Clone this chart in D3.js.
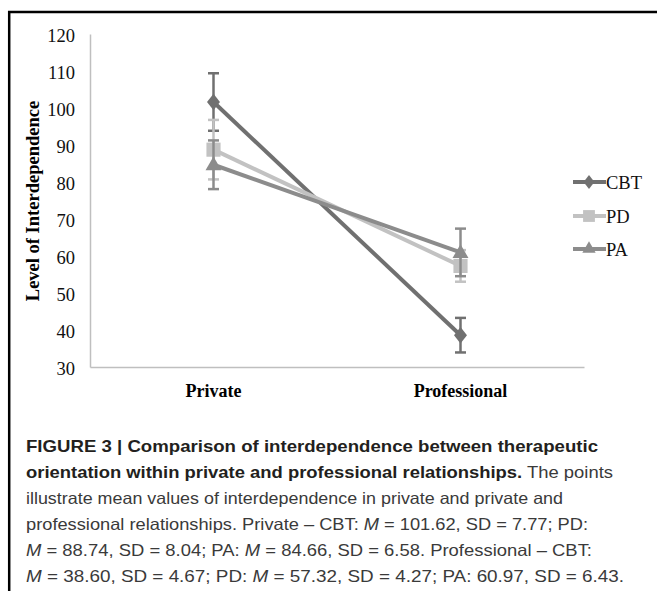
<!DOCTYPE html>
<html>
<head>
<meta charset="utf-8">
<script src="https://cdn.jsdelivr.net/npm/d3@7"></script>
<style>
  html, body { margin: 0; padding: 0; background: #fff; }
  svg { display: block; }
</style>
</head>
<body>
<svg id="chart" width="657" height="591"></svg>
<script>
// ---- data ----
const categories = ["Private", "Professional"];
const seriesNames = ["CBT", "PD", "PA"];
const cbtMeans = [101.62, 38.60];
const cbtSD = [7.77, 4.67];
const pdMeans = [88.74, 57.32];
const pdSD = [8.04, 4.27];
const paMeans = [84.66, 60.97];
const paSD = [6.58, 6.43];
const yTicks = [30, 40, 50, 60, 70, 80, 90, 100, 110, 120];
const yTitle = "Level of Interdependence";

const captionLines = [
  [{t: "FIGURE 3 | Comparison of interdependence between therapeutic", w: "bold"}],
  [{t: "orientation within private and professional relationships.", w: "bold"}, {t: " The points"}],
  [{t: "illustrate mean values of interdependence in private and private and"}],
  [{t: "professional relationships. Private – CBT: "}, {t: "M", i: true}, {t: " = 101.62, SD = 7.77; PD:"}],
  [{t: "M", i: true}, {t: " = 88.74, SD = 8.04; PA: "}, {t: "M", i: true}, {t: " = 84.66, SD = 6.58. Professional – CBT:"}],
  [{t: "M", i: true}, {t: " = 38.60, SD = 4.67; PD: "}, {t: "M", i: true}, {t: " = 57.32, SD = 4.27; PA: 60.97, SD = 6.43."}]
];
const captionWidths = [572, 587, 537, 562, 566, 598];

const series = [
  {name: "CBT", means: cbtMeans, sd: cbtSD, color: "#707070", symbol: d3.symbolDiamond, size: 110},
  {name: "PD", means: pdMeans, sd: pdSD, color: "#c2c2c2", symbol: d3.symbolSquare, size: 200},
  {name: "PA", means: paMeans, sd: paSD, color: "#8c8c8c", symbol: d3.symbolTriangle, size: 110}
];

const svg = d3.select("#chart");
const serif = "Liberation Serif, Times New Roman, serif";

// frame
svg.append("line").attr("x1", 8).attr("x2", 657).attr("y1", 12).attr("y2", 12)
  .attr("stroke", "#000").attr("stroke-width", 2.5);
svg.append("line").attr("x1", 9.2).attr("x2", 9.2).attr("y1", 11).attr("y2", 591)
  .attr("stroke", "#000").attr("stroke-width", 2.5);

// scales
const x = d3.scaleBand().domain(categories).range([90, 584]);
const y = d3.scaleLinear().domain([30, 120]).range([367, 34]);
const cx = c => x(c) + x.bandwidth() / 2;

// axes
const yAxis = d3.axisLeft(y).tickValues(yTicks).tickSize(0).tickPadding(15);
const gy = svg.append("g").attr("transform", "translate(90,0)").call(yAxis);
gy.select(".domain").attr("stroke", "#bfbfbf").attr("stroke-width", 1.5);
gy.selectAll("text").attr("font-family", serif)
  .attr("font-size", 18.5).attr("fill", "#111").attr("dy", "0.4em");

const xAxis = d3.axisBottom(x).tickSize(0).tickPadding(0);
const gx = svg.append("g").attr("transform", "translate(0,367)").call(xAxis);
gx.select(".domain").attr("stroke", "#bfbfbf").attr("stroke-width", 1.5);
gx.selectAll("text").attr("font-family", serif)
  .attr("font-size", 18).attr("font-weight", "bold").attr("fill", "#000")
  .attr("dy", null).attr("y", 30);

// y title
svg.append("text")
  .attr("transform", "translate(39,201) rotate(-90)")
  .attr("text-anchor", "middle")
  .attr("font-family", serif)
  .attr("font-size", 18.5).attr("font-weight", "bold").attr("fill", "#000")
  .text(yTitle);

// series
const line = d3.line().x((d, i) => cx(categories[i])).y(d => y(d));
series.forEach(s => {
  const g = svg.append("g");
  g.append("path").datum(s.means).attr("d", line)
    .attr("fill", "none").attr("stroke", s.color).attr("stroke-width", 4);
  s.means.forEach((m, i) => {
    const xc = cx(categories[i]);
    const top = y(m + s.sd[i]), bot = y(m - s.sd[i]);
    g.append("line").attr("x1", xc).attr("x2", xc).attr("y1", top).attr("y2", bot)
      .attr("stroke", s.color).attr("stroke-width", 2.5);
    [top, bot].forEach(yy => g.append("line")
      .attr("x1", xc - 5.5).attr("x2", xc + 5.5).attr("y1", yy).attr("y2", yy)
      .attr("stroke", s.color).attr("stroke-width", 2.5));
  });
  g.selectAll("path.mk").data(s.means).enter().append("path").attr("class", "mk")
    .attr("d", d3.symbol().type(s.symbol).size(s.size))
    .attr("transform", (d, i) => {
      const sx = s.symbol === d3.symbolDiamond ? "scale(1.15,0.85)" : "";
      return `translate(${cx(categories[i])},${y(d) + (s.symbol === d3.symbolTriangle ? 1 : 0)}) ${sx}`;
    })
    .attr("fill", s.color);
});

// legend
const legY = [182, 216, 249];
series.forEach((s, i) => {
  const g = svg.append("g").attr("transform", `translate(573,${legY[i]})`);
  g.append("line").attr("x1", 0).attr("x2", 33).attr("y1", 0).attr("y2", 0)
    .attr("stroke", s.color).attr("stroke-width", 4);
  g.append("path").attr("d", d3.symbol().type(s.symbol).size(s.size * 0.7))
    .attr("transform", `translate(16,0) ${s.symbol === d3.symbolDiamond ? "scale(1.15,0.85)" : ""}`)
    .attr("fill", s.color);
  g.append("text").attr("x", 33).attr("y", 6.5)
    .attr("font-family", serif)
    .attr("font-size", 18.5).attr("fill", "#111")
    .text(s.name);
});

// caption
captionLines.forEach((parts, li) => {
  const t = svg.append("text").attr("x", 26).attr("y", 452 + li * 26)
    .attr("font-family", "Liberation Sans, Arial, Helvetica, sans-serif")
    .attr("font-size", 16.5).attr("fill", "#231f20");
  parts.forEach(p => {
    t.append("tspan").text(p.t)
      .attr("font-weight", p.w || "normal")
      .attr("font-style", p.i ? "italic" : "normal")
      .attr("fill", p.w ? "#231f20" : "#3a3a3a");
  });
  t.attr("textLength", captionWidths[li]).attr("lengthAdjust", "spacingAndGlyphs");
});
</script>
</body>
</html>
